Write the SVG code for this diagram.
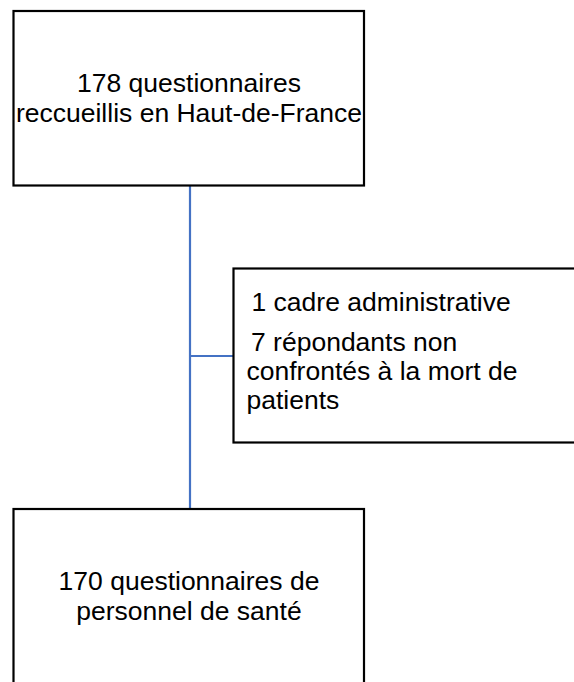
<svg xmlns="http://www.w3.org/2000/svg" width="574" height="682" viewBox="0 0 574 682">
<style>
.box{fill:#ffffff;stroke:#000000;stroke-width:2.2}
.t{font-family:"Liberation Sans",Arial,sans-serif;font-size:26.5px;fill:#000000}
.c{text-anchor:middle}
.conn{stroke:#4472C4;stroke-width:2.2;fill:none}
</style>
<rect width="574" height="682" fill="#ffffff"/>
<g id="connectors">
<line class="conn" x1="190" y1="185" x2="190" y2="509"/>
<line class="conn" x1="190" y1="356" x2="233.5" y2="356"/>
</g>
<g id="node-top">
<rect class="box" x="13.5" y="11" width="350.5" height="174.5"/>
<text class="t c" x="189" y="91.7">178 questionnaires</text>
<text class="t c" x="189" y="121.7">reccueillis en Haut-de-France</text>
</g>
<g id="node-excluded">
<rect class="box" x="233.5" y="268.5" width="350" height="174"/>
<text class="t" x="251.5" y="311">1 cadre administrative</text>
<text class="t" x="251" y="351">7 répondants non</text>
<text class="t" x="246.5" y="380">confrontés à la mort de</text>
<text class="t" x="246.5" y="409.3">patients</text>
</g>
<g id="node-bottom">
<rect class="box" x="13.5" y="509" width="350.5" height="190"/>
<text class="t c" x="189" y="590">170 questionnaires de</text>
<text class="t c" x="189" y="620">personnel de santé</text>
</g>
</svg>
